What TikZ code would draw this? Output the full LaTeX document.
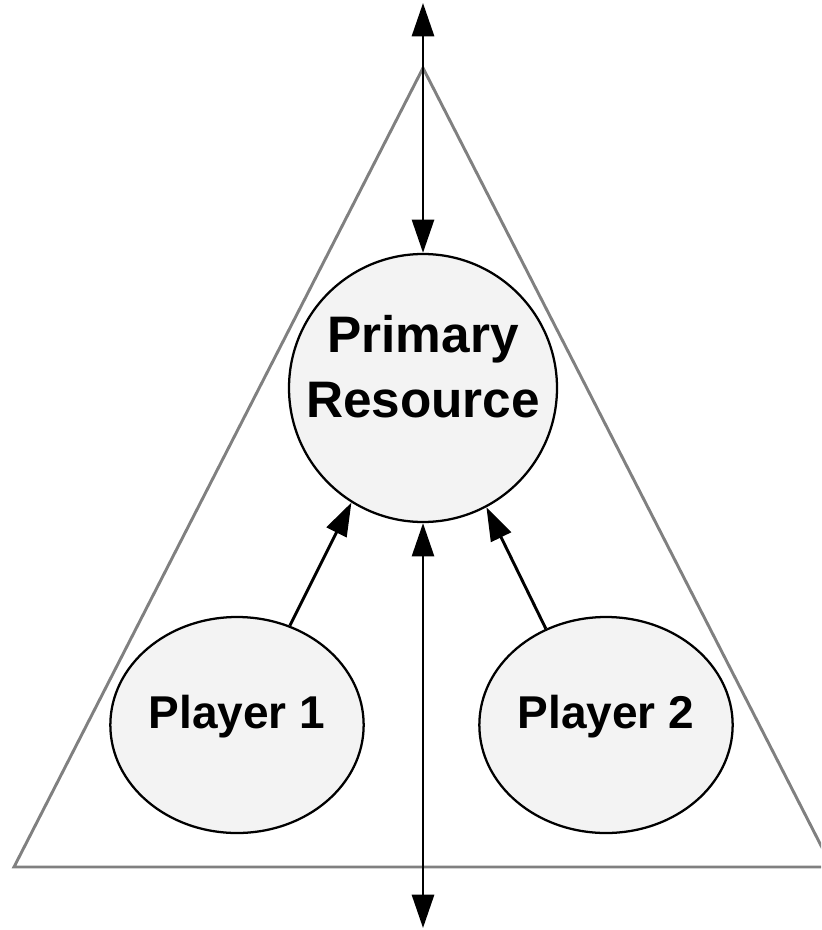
\documentclass[tikz,border=0pt]{standalone}
\usepackage{fontspec}
\setmainfont{Liberation Sans}
\usetikzlibrary{shapes.geometric,arrows.meta}
\definecolor{nodefill}{HTML}{F3F3F3}
\definecolor{framegray}{HTML}{808080}
\tikzset{
  bubble/.style={draw=black, line width=1.7pt, fill=nodefill, inner sep=0pt},
  caption/.style={inner sep=0pt, align=center, font=\bfseries},
  link/.style={line width=2.2pt, draw=black,
    -{Triangle[length=25pt,width=16.5pt]}},
  twoway/.style={line width=2.2pt, draw=black,
    {Triangle[length=25pt,width=16.5pt]}-{Triangle[length=25pt,width=16.5pt]}},
  frame/.style={draw=framegray, line width=2.2pt, line join=miter},
}
\begin{document}
\begin{tikzpicture}[x=0.75pt, y=-0.75pt]
  \useasboundingbox (0,0) rectangle (821,930);
  \clip (0,0) rectangle (821,930);

  % outer triangle
  \draw[frame] (423,68) -- (14,867) -- (832,867) -- cycle;

  % resource and players
  \node[bubble, circle, minimum size=201pt] (res) at (423,388) {};
  \node[bubble, ellipse, minimum width=190pt, minimum height=162pt]
        (p1) at (237,725) {};
  \node[bubble, ellipse, minimum width=190pt, minimum height=162pt]
        (p2) at (606,725) {};

  % their labels
  \node[caption, font=\bfseries\fontsize{38.5}{49}\selectfont]
        (reslabel) at ([yshift=16pt]res.center) {Primary\\Resource};
  \node[caption, font=\bfseries\fontsize{34.5}{40}\selectfont]
        (p1label) at ([yshift=6pt]p1.center) {Player 1};
  \node[caption, font=\bfseries\fontsize{34.5}{40}\selectfont]
        (p2label) at ([yshift=6pt]p2.center) {Player 2};

  % open ends of the vertical flow
  \coordinate (top) at (423,3);
  \coordinate (bottom) at (423,928);

  \draw[twoway] (top) -- (res.north);
  \draw[twoway] (res.south) -- (bottom);
  \draw[link] (p1.62) -- (res.238);
  \draw[link] (p2.122) -- (res.298);
\end{tikzpicture}
\end{document}
